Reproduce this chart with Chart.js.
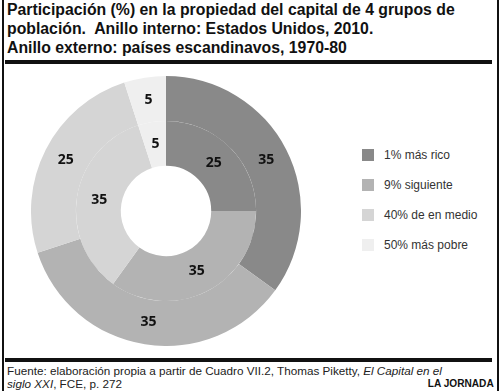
<!DOCTYPE html>
<html>
<head>
<meta charset="utf-8">
<script src="https://cdn.jsdelivr.net/npm/chart.js@4/dist/chart.umd.min.js"></script>
<style>
  html, body { margin:0; padding:0; background:#fff; }
  body { width:500px; height:391px; position:relative; overflow:hidden; font-family:"Liberation Sans", Arial, sans-serif; }
  .vline { position:absolute; top:0; width:2px; height:391px; background:#111; }
  .rule { position:absolute; left:5px; width:487px; height:4px; background:#111; }
  #title { position:absolute; left:7px; top:0px; font-weight:bold; font-size:15.8px; line-height:19px; color:#111; white-space:nowrap; }
  #wrap { position:absolute; left:31px; top:76px; width:270px; height:270px; }
  #legend { position:absolute; left:362px; top:148px; font-size:12px; color:#333; }
  .li { height:30px; display:flex; align-items:flex-start; }
  .sw { width:12px; height:12px; margin-right:10px; margin-top:1px; }
  #foot { position:absolute; left:7px; top:365px; font-size:11.7px; line-height:12.5px; color:#222; white-space:nowrap; }
  #brand { position:absolute; right:6px; top:377px; font-size:11px; font-weight:bold; color:#111; transform:scaleX(0.92); transform-origin:right center; white-space:nowrap; }
</style>
</head>
<body>
<div class="vline" style="left:2px"></div>
<div class="vline" style="left:497px"></div>
<div id="title">Participación (%) en la propiedad del capital de 4 grupos de<br>población.&nbsp; Anillo interno: Estados Unidos, 2010.<br>Anillo externo: países escandinavos, 1970-80</div>
<div class="rule" style="top:60px"></div>
<div id="wrap"><canvas id="c" width="270" height="270"></canvas></div>
<div id="legend"></div>
<div class="rule" style="top:358px"></div>
<div id="foot">Fuente: elaboración propia a partir de Cuadro VII.2, Thomas Piketty, <i>El Capital en el</i><br><i>siglo XXI</i>, FCE, p. 272</div>
<div id="brand">LA JORNADA</div>
<script>
const categories = ["1% más rico", "9% siguiente", "40% de en medio", "50% más pobre"];
const outerRing = [35, 35, 25, 5];
const innerRing = [25, 35, 35, 5];
const colors = ["#898989", "#b3b3b3", "#d5d5d5", "#efefef"];

const leg = document.getElementById('legend');
categories.forEach((c, i) => {
  const d = document.createElement('div'); d.className = 'li';
  const s = document.createElement('div'); s.className = 'sw'; s.style.background = colors[i];
  const t = document.createElement('span'); t.textContent = c;
  d.appendChild(s); d.appendChild(t); leg.appendChild(d);
});

const labelPlugin = {
  id: 'arcLabels',
  afterDatasetsDraw(chart) {
    const ctx = chart.ctx;
    ctx.save();
    ctx.font = 'bold 14px "Open Sans", sans-serif';
    ctx.fillStyle = '#111';
    ctx.textAlign = 'center';
    ctx.textBaseline = 'middle';
    chart.data.datasets.forEach((ds, di) => {
      chart.getDatasetMeta(di).data.forEach((arc, i) => {
        const p = arc.tooltipPosition();
        ctx.fillText(String(ds.data[i]), p.x, p.y);
      });
    });
    ctx.restore();
  }
};

new Chart(document.getElementById('c'), {
  type: 'doughnut',
  data: {
    labels: categories,
    datasets: [
      { label: 'Anillo externo', data: outerRing, backgroundColor: colors, borderWidth: 0, hoverOffset: 0 },
      { label: 'Anillo interno', data: innerRing, backgroundColor: colors, borderWidth: 0, hoverOffset: 0 }
    ]
  },
  options: {
    responsive: false,
    animation: false,
    cutout: '33.5%',
    layout: { padding: 0 },
    plugins: { legend: { display: false }, tooltip: { enabled: false } }
  },
  plugins: [labelPlugin]
});
</script>
</body>
</html>
